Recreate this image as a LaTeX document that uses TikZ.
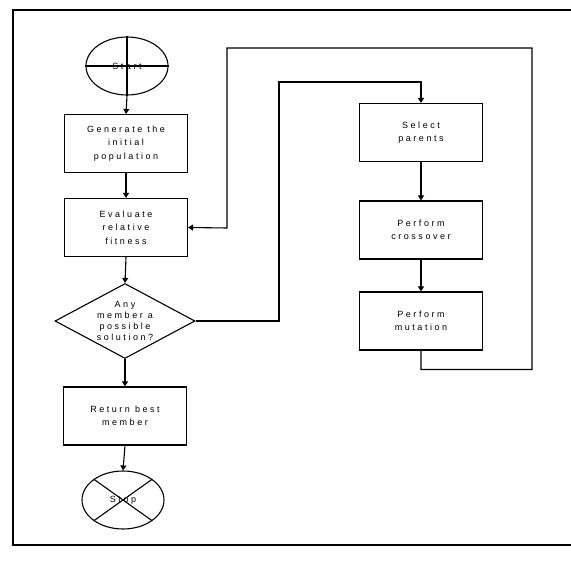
\documentclass[tikz,border=0pt]{standalone}
\usepackage{fontspec}
\setsansfont[LetterSpace=28]{Liberation Sans}
\usetikzlibrary{shapes.geometric,arrows.meta}

\begin{document}
\begin{tikzpicture}[x=1pt,y=-1pt,font=\sffamily\fontsize{9}{13.5}\selectfont,
    line width=1.1pt,
    box/.style={draw,rectangle,minimum width=123pt,minimum height=58pt,
        align=center,inner sep=0pt},
    oval/.style={draw,ellipse,minimum width=82pt,minimum height=58pt,inner sep=0pt},
    test/.style={draw,diamond,aspect=1.87,inner sep=0pt,align=center,
        minimum width=140pt,minimum height=75pt,
        font=\sffamily\fontsize{9}{11}\selectfont},
    arr/.style={-{Triangle[length=5pt,width=6pt]}}]
\useasboundingbox (0,0) rectangle (571,561);
%Outer frame of the page (its right side runs off the edge)
\draw (13,10) rectangle (575,545);

%Main column on the left, top to bottom
\node[oval] (s) at (127,66) {Start};
\node[box] (g) at (126,143.5) {Generate the\\initial\\population};
\node[box] (e) at (126,227.5) {Evaluate\\relative\\fitness};
\node[test] (d) at (125,321) {Any\\member a\\possible\\solution?};
\node[box] (r) at (125,416) {Return best\\member};
\node[oval] (t) at (123,500) {Stop};

%Right column: the operators of one generation
\node[box] (p) at (421,132.5) {Select\\parents};
\node[box] (c) at (421,230) {Perform\\crossover};
\node[box] (m) at (421,321) {Perform\\mutation};

%Cross lines through the two ovals
\draw (s.north) -- (s.south);
\draw (s.west) -- (s.east);
\draw (t.north west) -- (t.south east);
\draw (t.north east) -- (t.south west);

%Connectors
\draw[arr] (s.south) -- (g.north);
\draw[arr] (g.south) -- (e.north);
\draw[arr] (e.south) -- (d.north);
\draw[arr] (d.south) -- (r.north);
\draw[arr] (r.south) -- (t.north);
\draw[arr] (p.south) -- (c.north);
\draw[arr] (c.south) -- (m.north);
% "no" branch goes over to the operators
\draw[arr] (d.east) -- (279,321) |- (421,82) -- (p.north);
% loop back to the evaluation
\draw[arr] (m.south) -- ++(0,19) -| (532,48) -| (227,228) -- (e.east);
\end{tikzpicture}
\end{document}
